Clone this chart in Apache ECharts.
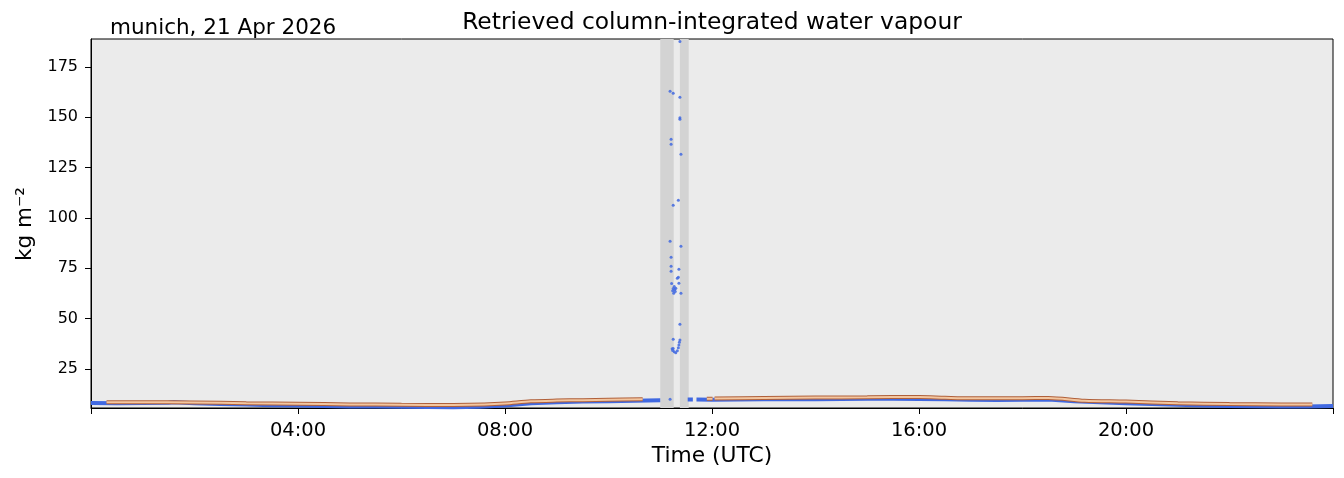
<!DOCTYPE html>
<html>
<head>
<meta charset="utf-8">
<script src="https://cdn.jsdelivr.net/npm/echarts@6/dist/echarts.min.js"></script>
<style>
html,body{margin:0;padding:0;background:#fff;}
#c{width:1344px;height:478px;}
</style>
</head>
<body>
<div id="c"></div>
<script>
// ---- data (hours UTC, kg m^-2) ----
const xTicks = [0, 4, 8, 12, 16, 20, 24];
const yTicks = [25, 50, 75, 100, 125, 150, 175];

const blueTimes = [0, 0.5, 1, 1.5, 1.6, 2, 2.5, 3, 3.5, 4, 4.5, 5, 5.5, 6, 6.5, 7, 7.5, 8, 8.5, 9, 9.5, 10, 10.5, 11.0,
  11.05, 11.53, 11.63, 11.66, 11.70, 12, 12.5, 13, 13.5, 14, 14.5, 15, 15.5, 16, 16.5, 17, 17.5, 18, 18.5, 19, 19.5, 20, 20.5, 21, 21.5, 22, 22.5, 23, 23.5, 24];
const blueValues = [8.1, 8.0, 8.1, 8.2, 8.4, 7.9, 7.6, 7.3, 7.0, 6.8, 6.6, 6.4, 6.3, 6.2, 6.1, 6.0, 6.2, 6.8, 7.9, 8.5, 8.8, 9.0, 9.2, 9.4,
  null, 9.8, 9.8, null, 9.8, 9.7, 9.8, 9.9, 10.0, 10.0, 10.1, 10.2, 10.2, 10.1, 9.9, 9.7, 9.6, 9.7, 9.8, 9.0, 8.4, 8.0, 7.6, 7.2, 6.8, 6.6, 6.5, 6.4, 6.3, 6.6];

const orangeTimes = [0.3, 1, 2, 3, 4, 5, 6, 7, 7.6, 8.0, 8.5, 9, 9.5, 10, 10.66,
  10.7, 11.90, 12.01, 12.03, 12.05, 13, 14, 15, 16, 16.5, 17, 18, 18.5, 19.2, 20, 21, 22, 23, 23.6];
const orangeValues = [8.5, 8.5, 8.3, 8.0, 7.7, 7.4, 7.2, 7.1, 7.3, 7.8, 8.9, 9.3, 9.5, 9.7, 9.9,
  null, 10.2, 10.2, null, 10.3, 10.6, 10.8, 10.9, 11.1, 10.7, 10.4, 10.5, 10.6, 9.2, 8.8, 8.0, 7.6, 7.4, 7.3];

const outlierTimes = [11.38, 11.19, 11.25, 11.38, 11.38, 11.38, 11.21, 11.21, 11.40, 11.35, 11.25, 11.19, 11.40, 11.21, 11.21, 11.21,
  11.36, 11.35, 11.33, 11.36, 11.22, 11.30, 11.26, 11.24, 11.40, 11.28, 11.27, 11.25, 11.29, 11.38, 11.25, 11.38, 11.37, 11.36,
  11.35, 11.33, 11.30, 11.27, 11.24, 11.23, 11.25, 11.19];
const outlierValues = [187.6, 162.9, 161.9, 160.0, 149.8, 149.0, 139.1, 136.6, 131.6, 108.8, 106.3, 88.4, 85.9, 80.5, 76.0, 73.5,
  74.5, 70.5, 70.0, 67.6, 67.5, 65.1, 62.6, 63.9, 62.6, 64.5, 66.0, 65.0, 63.5, 47.2, 39.7, 39.4, 38.3, 36.9,
  35.5, 34.0, 33.0, 33.5, 34.2, 35.0, 35.2, 10.0];

const rainStart = [11.0, 11.38];
const rainEnd = [11.26, 11.55];

const pairs = (t, v) => t.map((x, i) => [x, v[i] === null ? '-' : v[i]]);
const fmtHour = h => (h < 10 ? '0' : '') + h + ':00';

const chart = echarts.init(document.getElementById('c'));
const font = 'DejaVu Sans';
chart.setOption({
  animation: false,
  backgroundColor: '#ffffff',
  grid: { left: 91, right: 11, top: 39, bottom: 70, show: true, backgroundColor: '#ebebeb', borderColor: '#000', borderWidth: 1 },
  xAxis: {
    type: 'value', min: 0, max: 24, interval: 4,
    axisLine: { show: true, lineStyle: { color: '#000', width: 1 } },
    axisTick: { show: true, length: 6, lineStyle: { color: '#000' } },
    splitLine: { show: false },
    axisLabel: { fontFamily: font, fontSize: 19.5, color: '#000', margin: 13,
      formatter: v => (v === 0 || v === 24) ? '' : fmtHour(v) }
  },
  yAxis: {
    type: 'value', min: 5.6, max: 188.9,
    axisLine: { show: true, lineStyle: { color: '#000', width: 1 } },
    axisTick: { show: true, length: 6, lineStyle: { color: '#000' }, customValues: yTicks },
    splitLine: { show: false },
    axisLabel: { fontFamily: font, fontSize: 16, color: '#000', margin: 13, customValues: yTicks }
  },
  graphic: [
    { type: 'text', style: { text: 'Retrieved column-integrated water vapour', x: 712, y: 23, fontFamily: font, fontSize: 23.4, fill: '#000', align: 'center', verticalAlign: 'middle' } },
    { type: 'text', style: { text: 'munich, 21 Apr 2026', x: 110, y: 28, fontFamily: font, fontSize: 21.5, fill: '#000', align: 'left', verticalAlign: 'middle' } },
    { type: 'text', style: { text: 'Time (UTC)', x: 712, y: 456, fontFamily: font, fontSize: 21.8, fill: '#000', align: 'center', verticalAlign: 'middle' } },
    { type: 'text', rotation: Math.PI / 2, x: 25, y: 224, style: { text: 'kg m\u207B\u00B2', x: 0, y: 0, fontFamily: font, fontSize: 21.5, fill: '#000', align: 'center', verticalAlign: 'middle' } }
  ],
  series: [
    {
      type: 'line', z: 1, data: [[12, '-']], showSymbol: false, silent: true,
      markArea: { silent: true, itemStyle: { color: '#d3d3d3' },
        data: rainStart.map((s, i) => [{ xAxis: s }, { xAxis: rainEnd[i] }]) }
    },
    {
      type: 'line', z: 2, data: pairs(blueTimes, blueValues), showSymbol: false, connectNulls: false,
      lineStyle: { color: '#4169e1', width: 4 }
    },
    {
      type: 'scatter', z: 3, data: pairs(outlierTimes, outlierValues), symbolSize: 3,
      itemStyle: { color: '#4169e1', opacity: 0.85 }
    },
    {
      type: 'line', z: 4, data: pairs(orangeTimes, orangeValues), showSymbol: false, connectNulls: false, smooth: 0.3,
      lineStyle: { color: '#b0603a', width: 4 }
    },
    {
      type: 'line', z: 5, data: pairs(orangeTimes, orangeValues), showSymbol: false, connectNulls: false, smooth: 0.3,
      lineStyle: { color: '#f3c6a0', width: 2 }
    }
  ]
});
</script>
</body>
</html>
